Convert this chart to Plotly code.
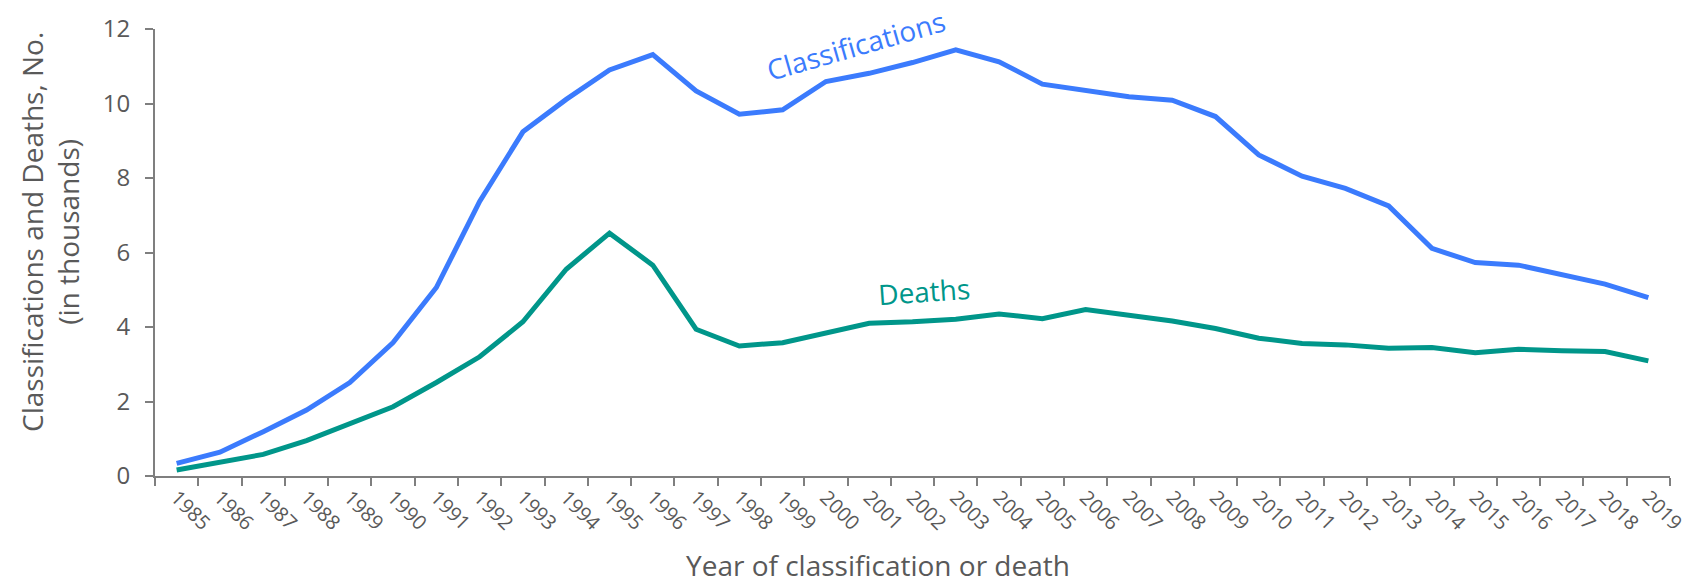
import plotly.graph_objects as go

years = [str(y) for y in range(1985, 2020)]
classifications = [0.34, 0.64, 1.19, 1.77, 2.51, 3.58, 5.06, 7.37, 9.24, 10.11,
                   10.90, 11.31, 10.34, 9.71, 9.83, 10.59, 10.81, 11.10, 11.44, 11.12,
                   10.52, 10.36, 10.18, 10.09, 9.65, 8.62, 8.05, 7.72, 7.25, 6.11,
                   5.73, 5.66, 5.42, 5.15, 4.79]
deaths = [0.16, 0.38, 0.58, 0.95, 1.41, 1.86, 2.51, 3.20, 4.14, 5.55,
          6.52, 5.66, 3.94, 3.49, 3.58, 3.83, 4.10, 4.14, 4.21, 4.35,
          4.22, 4.47, 4.32, 4.16, 3.96, 3.70, 3.56, 3.52, 3.43, 3.45,
          3.31, 3.40, 3.36, 3.34, 3.09]
y_ticks = [0, 2, 4, 6, 8, 10, 12]

BLUE = "#3b7bfd"
TEAL = "#00968a"
GRAY = "#7f7f7f"
TXT = "#595959"
FONT = "Open Sans"

fig = go.Figure()
fig.add_trace(go.Scatter(x=years, y=classifications, mode="lines", name="Classifications",
                         line=dict(color=BLUE, width=5)))
fig.add_trace(go.Scatter(x=years, y=deaths, mode="lines", name="Deaths",
                         line=dict(color=TEAL, width=5)))

# page body has an 8px margin, so the figure is sized/offset to compensate
fig.update_layout(
    width=1688, height=576,
    margin=dict(l=147, r=26, t=21, b=108),
    plot_bgcolor="white", paper_bgcolor="white",
    showlegend=False,
    font=dict(family=FONT, color=TXT),
)
fig.update_xaxes(
    type="category", tickson="boundaries", ticks="outside", ticklen=8, tickwidth=2,
    tickcolor=GRAY, showline=True, linecolor=GRAY, linewidth=2, showgrid=False,
    tickangle=45, tickfont=dict(size=20, color=TXT, family=FONT),
    range=[-0.5, len(years) - 0.5], automargin=False,
)
fig.update_yaxes(
    range=[0, 12], tickvals=y_ticks, ticks="outside", ticklen=8, tickwidth=2,
    tickcolor=GRAY, showline=True, linecolor=GRAY, linewidth=2, showgrid=False,
    zeroline=False, tickfont=dict(size=24, color=TXT, family=FONT),
    ticklabelstandoff=10, automargin=False,
)

fig.add_annotation(text="Classifications and Deaths, No.<br>(in thousands)",
                   xref="paper", yref="paper", x=0, y=0.546, xshift=-105, textangle=-90,
                   showarrow=False, xanchor="center", yanchor="middle",
                   font=dict(size=28, color=TXT, family=FONT))
fig.add_annotation(text="Year of classification or death",
                   xref="paper", yref="paper", x=0.477, y=-0.199,
                   showarrow=False, xanchor="center", yanchor="middle",
                   font=dict(size=28, color=TXT, family=FONT))
fig.add_annotation(text="Classifications", xref="paper", yref="paper", x=0.463, y=0.964,
                   textangle=-16, showarrow=False, xanchor="center", yanchor="middle",
                   font=dict(size=28, color=BLUE, family=FONT))
fig.add_annotation(text="Deaths", xref="paper", yref="paper", x=0.5076, y=0.414,
                   textangle=-4, showarrow=False, xanchor="center", yanchor="middle",
                   font=dict(size=28, color=TEAL, family=FONT))

fig.write_html("out.html")
